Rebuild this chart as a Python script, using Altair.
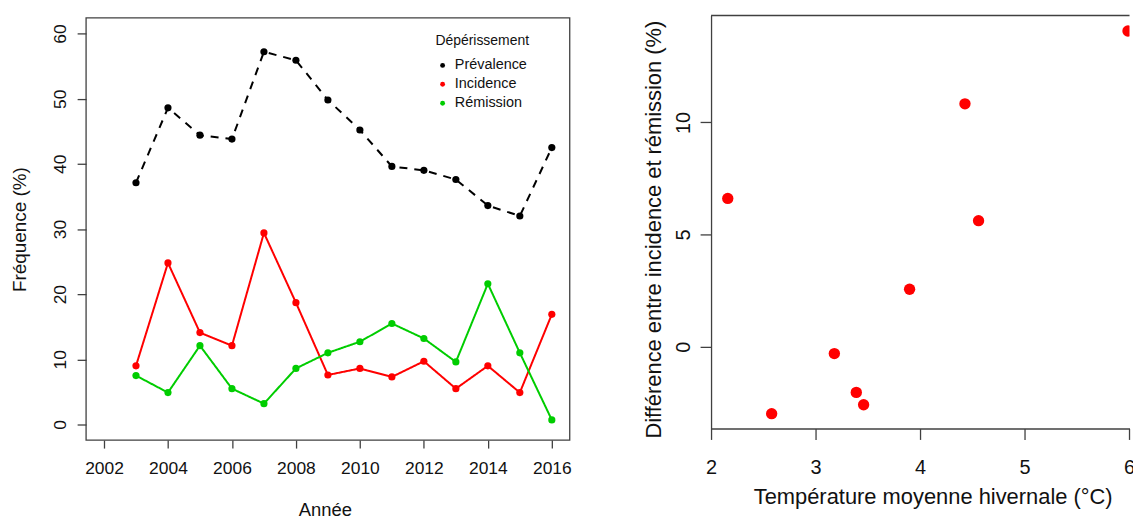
import altair as alt
import pandas as pd

# Yearly dieback frequencies (%)
years = list(range(2003, 2017))
prevalence = [37.1, 48.6, 44.4, 43.8, 57.2, 55.9, 49.8, 45.2, 39.6, 39.0, 37.6, 33.6, 32.0, 42.5]
incidence = [9.0, 24.8, 14.1, 12.1, 29.4, 18.7, 7.6, 8.6, 7.3, 9.7, 5.5, 9.0, 4.9, 16.9]
remission = [7.5, 4.9, 12.1, 5.5, 3.2, 8.6, 11.0, 12.7, 15.5, 13.2, 9.6, 21.6, 11.0, 0.7]

series_names = ["Prévalence", "Incidence", "Rémission"]
series_colors = ["#000000", "#FF0000", "#00CD00"]

# Mean winter temperature vs (incidence - remission)
temp_hiver = [2.16, 2.58, 3.18, 3.39, 3.46, 3.90, 4.43, 4.56, 5.99]
diff_inc_rem = [6.61, -2.99, -0.31, -2.04, -2.59, 2.56, 10.83, 5.62, 14.08]

x_ticks_left = list(range(2002, 2017, 2))
y_ticks_left = list(range(0, 61, 10))
x_ticks_right = [2, 3, 4, 5, 6]
y_ticks_right = [0, 5, 10]

FONT = "Liberation Sans"
AXIS_COL = "#404040"

# left panel geometry: plot area a little taller than its frame, frame starts 2.4 px lower
LEFT_W = 486
LEFT_H = 426.7
FRAME_TOP = 2.4

long_df = pd.DataFrame({
    "Année": years * 3,
    "Valeur": prevalence + incidence + remission,
    "Série": [series_names[0]] * len(years) + [series_names[1]] * len(years) + [series_names[2]] * len(years),
})
one_row = pd.DataFrame({"k": [0]})  # single datum for frame lines

x_left = alt.X(
    "Année:Q",
    scale=alt.Scale(domain=[2001.44, 2016.56], nice=False, zero=False),
    axis=alt.Axis(
        values=x_ticks_left, format="d", grid=False, domain=False,
        tickSize=8, tickColor=AXIS_COL, tickWidth=1.3,
        labelFontSize=17.5, labelFont=FONT, labelColor="#111", labelPadding=21,
        labelBaseline="middle", labelFlush=False,
        title="Année", titleFont=FONT, titleFontSize=18.5, titleFontWeight="normal",
        titleColor="#111", titleX=240, titleY=70, titleBaseline="middle", titleAlign="center",
    ),
)
y_left = alt.Y(
    "Valeur:Q",
    scale=alt.Scale(domain=[-2.4, 62.77], nice=False, zero=False),
    axis=alt.Axis(
        values=y_ticks_left, grid=False, domain=False,
        tickSize=9, tickColor=AXIS_COL, tickWidth=1.3,
        labelFontSize=17.5, labelFont=FONT, labelColor="#111", labelAngle=270,
        labelAlign="center", labelBaseline="middle", labelPadding=17, labelFlush=False,
        title="Fréquence (%)", titleFont=FONT, titleFontSize=19, titleFontWeight="normal",
        titleColor="#111", titleX=-67, titleY=214.7, titleAngle=270,
        titleBaseline="middle", titleAlign="center",
    ),
)

layers = []
for name, col in zip(series_names, series_colors):
    dash = [8, 7] if name == "Prévalence" else [1, 0]
    layers.append(
        alt.Chart(long_df)
        .transform_filter(alt.datum["Série"] == name)
        .mark_line(color=col, strokeWidth=2, strokeDash=dash)
        .encode(x=x_left, y=y_left)
    )

points_left = alt.Chart(long_df).mark_circle(size=52, opacity=1).encode(
    x=x_left,
    y=y_left,
    color=alt.Color(
        "Série:N",
        scale=alt.Scale(domain=series_names, range=series_colors),
        legend=alt.Legend(
            title="Dépérissement", orient="none", legendX=351, legendY=16.5 + FRAME_TOP,
            titleFont=FONT, titleFontSize=14, titleFontWeight="normal", titleColor="#111",
            titlePadding=10, labelFont=FONT, labelFontSize=14.5, labelColor="#111",
            symbolType="circle", symbolSize=24, symbolOffset=0, labelOffset=5,
            rowPadding=4, symbolStrokeWidth=0,
        ),
    ),
)

# left panel frame (all four sides)
frame_left = alt.Chart(one_row).mark_rect(
    fill=None, stroke=AXIS_COL, strokeWidth=1.3
).encode(x=alt.value(0), x2=alt.value(LEFT_W), y=alt.value(FRAME_TOP), y2=alt.value(LEFT_H))

left = alt.layer(*layers, points_left, frame_left).properties(width=LEFT_W, height=LEFT_H)

right_df = pd.DataFrame({"Temp": temp_hiver, "Diff": diff_inc_rem})

RIGHT_W = 420.5
PX_PER_DEG = 105

x_right = alt.X(
    "Temp:Q",
    scale=alt.Scale(domain=[2, 2 + RIGHT_W / PX_PER_DEG], nice=False, zero=False),
    axis=alt.Axis(
        values=x_ticks_right, grid=False, domain=True, domainColor=AXIS_COL, domainWidth=1.3,
        tickSize=11, tickColor=AXIS_COL, tickWidth=1.3,
        labelFontSize=20, labelFont=FONT, labelColor="#111", labelPadding=28,
        labelBaseline="middle", labelFlush=False,
        title="Température moyenne hivernale (°C)", titleFont=FONT, titleFontSize=22,
        titleFontWeight="normal", titleColor="#111", titleX=222.7, titleY=68.7,
        titleBaseline="middle", titleAlign="center",
    ),
)
y_right = alt.Y(
    "Diff:Q",
    scale=alt.Scale(domain=[-3.65, 14.77], nice=False, zero=False),
    axis=alt.Axis(
        values=y_ticks_right, grid=False, domain=True, domainColor=AXIS_COL, domainWidth=1.3,
        tickSize=11, tickColor=AXIS_COL, tickWidth=1.3,
        labelFontSize=20, labelFont=FONT, labelColor="#111", labelAngle=270,
        labelAlign="center", labelBaseline="middle", labelPadding=17, labelFlush=False,
        title="Différence entre incidence et rémission (%)", titleFont=FONT,
        titleFontSize=22, titleFontWeight="normal", titleColor="#111",
        titleX=-58, titleY=214.7, titleAngle=270, titleBaseline="middle", titleAlign="center",
    ),
)

scatter = alt.Chart(right_df).mark_circle(size=130, color="#FF0000", opacity=1, clip=True).encode(
    x=x_right, y=y_right
)
top_edge = alt.Chart(one_row).mark_rule(color=AXIS_COL, strokeWidth=1.3).encode(
    x=alt.value(0), x2=alt.value(RIGHT_W), y=alt.value(0)
)

right = alt.layer(scatter, top_edge).properties(width=RIGHT_W, height=415)

chart = (
    alt.hconcat(left, right, spacing=70)
    .properties(padding={"left": 10.5, "top": 13.3, "right": -2, "bottom": 0})
    .configure_view(stroke=None)
    .resolve_scale(x="independent", y="independent", color="independent")
)

chart.save("out.html", embed_options={"renderer": "svg", "actions": False})
